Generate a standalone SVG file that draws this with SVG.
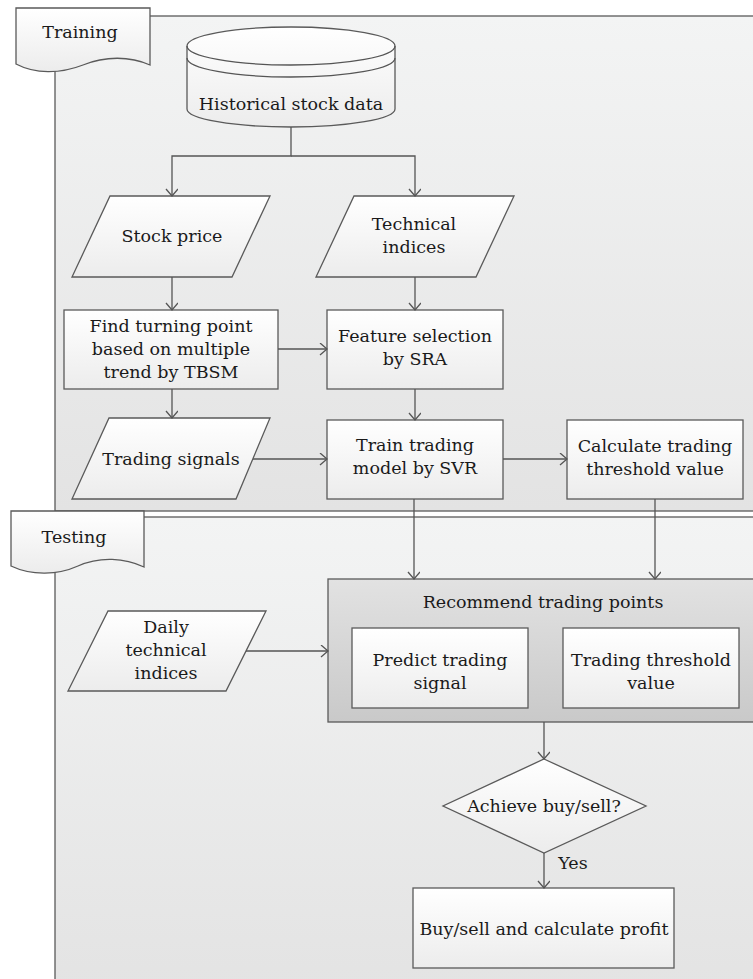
<svg xmlns="http://www.w3.org/2000/svg" width="753" height="979" viewBox="0 0 753 979">
<defs>
<linearGradient id="gPanel" x1="0" y1="0" x2="0" y2="1">
<stop offset="0" stop-color="#f3f4f4"/>
<stop offset="1" stop-color="#e3e3e3"/>
</linearGradient>
<linearGradient id="gShape" x1="0" y1="0" x2="0" y2="1">
<stop offset="0" stop-color="#ffffff"/>
<stop offset="1" stop-color="#ececec"/>
</linearGradient>
<linearGradient id="gGroup" x1="0" y1="0" x2="0" y2="1">
<stop offset="0" stop-color="#e2e2e2"/>
<stop offset="1" stop-color="#c9c9c9"/>
</linearGradient>
<marker id="arr" markerUnits="userSpaceOnUse" markerWidth="14" markerHeight="14" refX="8" refY="6" orient="auto" viewBox="0 0 14 14">
<path d="M1,0 L8,6 L1,12" fill="none" stroke="#555" stroke-width="1.3"/>
</marker>
<style>
.sh{fill:url(#gShape);stroke:#5a5a5a;stroke-width:1.3}
.pn{fill:url(#gPanel);stroke:#5a5a5a;stroke-width:1.3}
.gr{fill:url(#gGroup);stroke:#5a5a5a;stroke-width:1.3}
.ln{fill:none;stroke:#555;stroke-width:1.3}
.c{fill:none;stroke:#555;stroke-width:1.3;marker-end:url(#arr)}
text{font-family:"DejaVu Serif","Liberation Serif",serif;font-size:17.5px;fill:#1a1a1a;text-anchor:middle}
</style>
</defs>
<rect width="753" height="979" fill="#ffffff"/>

<g id="training-panel">
<rect class="pn" x="55" y="16" width="730" height="495"/>
<path class="sh" d="M16,8 H150 V65 C130,56 105,56 83,65 C60,74 35,74 16,64 Z"/>
<text x="80" y="38">Training</text>
</g>

<g id="testing-panel">
<rect class="pn" x="55" y="517" width="730" height="480"/>
<path class="sh" d="M11,511 H144 V567 C125,558 100,556 78,566 C58,575 32,576 11,566 Z"/>
<text x="74" y="543">Testing</text>
</g>

<g id="historical">
<path class="sh" d="M187,46 A104,19 0 0 1 395,46 V109 A104,18 0 0 1 187,109 Z"/>
<path class="ln" d="M187,46 A104,19 0 0 0 395,46"/>
<path class="ln" d="M187,58 A104,19 0 0 0 395,58"/>
<text x="291" y="110">Historical stock data</text>
</g>

<g id="stock-price">
<polygon class="sh" points="110,196 270,196 232,277 72,277"/>
<text x="172" y="242">Stock price</text>
</g>

<g id="technical-indices">
<polygon class="sh" points="354,196 514,196 476,277 316,277"/>
<text x="414" y="230">Technical</text>
<text x="414" y="253">indices</text>
</g>

<g id="find-turning">
<rect class="sh" x="64" y="310" width="214" height="79"/>
<text x="171" y="332">Find turning point</text>
<text x="171" y="355">based on multiple</text>
<text x="171" y="378">trend by TBSM</text>
</g>

<g id="feature-selection">
<rect class="sh" x="327" y="310" width="176" height="79"/>
<text x="415" y="342">Feature selection</text>
<text x="415" y="365">by SRA</text>
</g>

<g id="trading-signals">
<polygon class="sh" points="109,418 270,418 236,499 72,499"/>
<text x="171" y="465">Trading signals</text>
</g>

<g id="train-model">
<rect class="sh" x="327" y="420" width="176" height="79"/>
<text x="415" y="451">Train trading</text>
<text x="415" y="474">model by SVR</text>
</g>

<g id="calc-threshold">
<rect class="sh" x="567" y="420" width="176" height="79"/>
<text x="655" y="452">Calculate trading</text>
<text x="655" y="475">threshold value</text>
</g>

<g id="daily-indices">
<polygon class="sh" points="108,611 266,611 226,691 68,691"/>
<text x="166" y="633">Daily</text>
<text x="166" y="656">technical</text>
<text x="166" y="679">indices</text>
</g>

<g id="recommend">
<rect class="gr" x="328" y="579" width="432" height="143"/>
<text x="543" y="608">Recommend trading points</text>
</g>

<g id="predict-signal">
<rect class="sh" x="352" y="628" width="176" height="80"/>
<text x="440" y="666">Predict trading</text>
<text x="440" y="689">signal</text>
</g>

<g id="threshold-value">
<rect class="sh" x="563" y="628" width="176" height="80"/>
<text x="651" y="666">Trading threshold</text>
<text x="651" y="689">value</text>
</g>

<g id="achieve">
<polygon class="sh" points="544,759 646,806 544,853 443,806"/>
<text x="544" y="812">Achieve buy/sell?</text>
</g>

<g id="buy-sell">
<rect class="sh" x="413" y="888" width="261" height="80"/>
<text x="544" y="935">Buy/sell and calculate profit</text>
</g>

<g id="connectors">
<path class="c" d="M291,127 V156 H172 V196"/>
<path class="c" d="M291,156 H415 V196"/>
<path class="c" d="M172,277 V310"/>
<path class="c" d="M415,277 V310"/>
<path class="c" d="M278,349 H327"/>
<path class="c" d="M172,389 V418"/>
<path class="c" d="M415,389 V420"/>
<path class="c" d="M253,459 H327"/>
<path class="c" d="M503,459 H567"/>
<path class="c" d="M414,499 V579"/>
<path class="c" d="M655,499 V579"/>
<path class="c" d="M246,651 H328"/>
<path class="c" d="M544,722 V759"/>
<path class="c" d="M544,853 V888"/>
<text x="573" y="869">Yes</text>
</g>
</svg>
